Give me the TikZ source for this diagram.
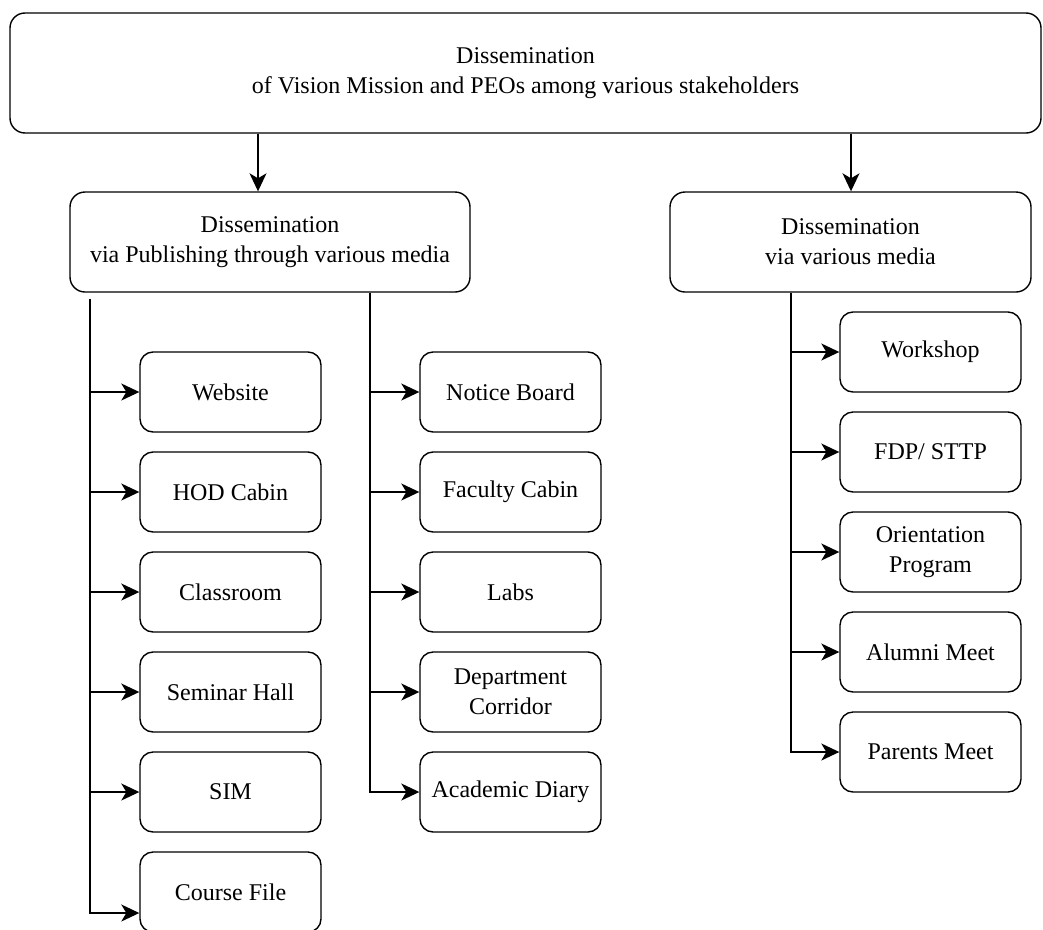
\documentclass[tikz,border=0pt]{standalone}
\usepackage{fontspec}
\setmainfont{Liberation Serif}
\newfontfamily\boxfont{Liberation Serif}
\usetikzlibrary{arrows.meta}
\begin{document}
\begin{tikzpicture}[x=1pt,y=-1pt,
  box/.style={draw, line width=1.4pt, rounded corners=13pt, fill=white,
    align=center, inner sep=0pt, font=\boxfont\fontsize{24}{30}\selectfont},
  leaf/.style={box, minimum width=181pt, minimum height=80pt},
  link/.style={line width=1.4pt},
  arr/.style={link, -{Stealth[length=18pt,width=17pt,inset=5pt]}}]
\useasboundingbox (0,0) rectangle (1043,929);

% header and the two groups
\node[box, minimum width=1031pt, minimum height=120pt, rounded corners=15pt] (top) at (525.5,73)
  {Dissemination\\of Vision Mission and PEOs among various stakeholders};
\node[box, minimum width=400pt, minimum height=100pt, rounded corners=15pt] (pub) at (270,242)
  {Dissemination\\via Publishing through various media};
\node[box, minimum width=361pt, minimum height=100pt, rounded corners=15pt] (med) at (850.5,242)
  {Dissemination\\via various media};

% trunk positions
\coordinate (xa) at (258,0);
\coordinate (xb) at (851,0);
\coordinate (xl) at (90,0);
\coordinate (xm) at (370,0);
\coordinate (xr) at (791,0);
\coordinate (cfy) at (0,913);

% left column
\node[leaf] (web) at (230.5,392) {Website};
\node[leaf] (hod) at (230.5,492) {HOD Cabin};
\node[leaf] (cls) at (230.5,592) {Classroom};
\node[leaf] (sem) at (230.5,692) {Seminar Hall};
\node[leaf] (sim) at (230.5,792) {SIM};
\node[leaf] (cf)  at (230.5,892) {Course File};

% middle column
\node[leaf] (nb)  at (510.5,392) {Notice Board};
\node[leaf] (fc)  at (510.5,492) {Faculty Cabin};
\node[leaf] (lab) at (510.5,592) {Labs};
\node[leaf] (dc)  at (510.5,692) {Department\\Corridor};
\node[leaf] (ad)  at (510.5,792) {Academic Diary};

% right column
\node[leaf] (ws)  at (930.5,352) {Workshop};
\node[leaf] (fdp) at (930.5,452) {FDP/ STTP};
\node[leaf] (op)  at (930.5,552) {Orientation\\Program};
\node[leaf] (am)  at (930.5,652) {Alumni Meet};
\node[leaf] (pm)  at (930.5,752) {Parents Meet};

% header to groups
\draw[arr] (top.south -| xa) -- (pub.north -| xa);
\draw[arr] (top.south -| xb) -- (med.north -| xb);

% left trunk and branches
\draw[arr] ([yshift=-6pt]pub.south -| xl) -- (xl |- cfy) -- (cf.west |- cfy);
\foreach \n in {web,hod,cls,sem,sim} \draw[arr] (xl |- \n) -- (\n);

% middle trunk and branches
\draw[arr] (pub.south -| xm) -- (xm |- ad) -- (ad);
\foreach \n in {nb,fc,lab,dc} \draw[arr] (xm |- \n) -- (\n);

% right trunk and branches
\draw[arr] (med.south -| xr) -- (xr |- pm) -- (pm);
\foreach \n in {ws,fdp,op,am} \draw[arr] (xr |- \n) -- (\n);
\end{tikzpicture}
\end{document}
